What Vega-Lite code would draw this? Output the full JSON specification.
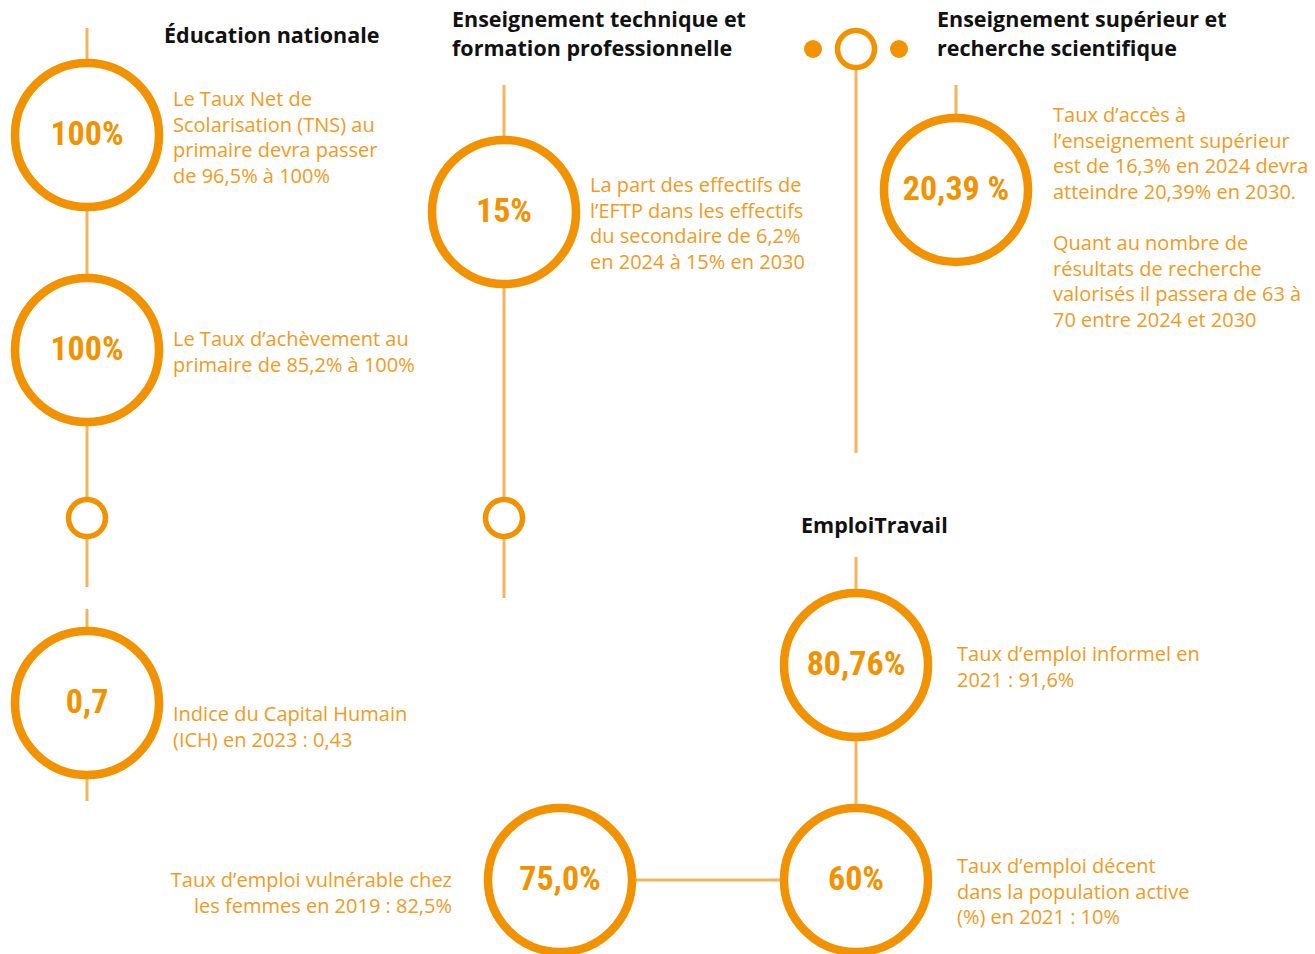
{
  "$schema": "https://vega.github.io/schema/vega-lite/v6.json",
  "width": 1315,
  "height": 954,
  "autosize": {"type": "fit", "contains": "padding"},
  "padding": 0,
  "background": "#ffffff",
  "config": {"view": {"stroke": null}},
  "datasets": {
    "links": [
      {"x": 87, "y": 28, "x2": 87, "y2": 587},
      {"x": 87, "y": 609, "x2": 87, "y2": 801},
      {"x": 504, "y": 85, "x2": 504, "y2": 598},
      {"x": 856, "y": 49, "x2": 856, "y2": 453},
      {"x": 956, "y": 85, "x2": 956, "y2": 190},
      {"x": 856, "y": 557, "x2": 856, "y2": 880},
      {"x": 560, "y": 880, "x2": 856, "y2": 880}
    ],
    "targets": [
      {"x": 87, "y": 135, "value": "100%"},
      {"x": 87, "y": 350, "value": "100%"},
      {"x": 87, "y": 703, "value": "0,7"},
      {"x": 504, "y": 212, "value": "15%"},
      {"x": 956, "y": 190, "value": "20,39 %"},
      {"x": 856, "y": 665, "value": "80,76%"},
      {"x": 856, "y": 880, "value": "60%"},
      {"x": 560, "y": 880, "value": "75,0%"}
    ],
    "rings": [
      {"x": 87, "y": 518},
      {"x": 504, "y": 518},
      {"x": 856, "y": 49}
    ],
    "dots": [
      {"x": 813, "y": 49},
      {"x": 899, "y": 49}
    ],
    "titles": [
      {"x": 164, "y": 43, "text": "Éducation nationale"},
      {"x": 452, "y": 27, "text": "Enseignement technique et\nformation professionnelle"},
      {"x": 937, "y": 27, "text": "Enseignement supérieur et\nrecherche scientifique"},
      {"x": 801, "y": 533, "text": "EmploiTravail"}
    ],
    "notes": [
      {"x": 173, "y": 106, "text": "Le Taux Net de\nScolarisation (TNS) au\nprimaire devra passer\nde 96,5% à 100%"},
      {"x": 173, "y": 346, "text": "Le Taux d’achèvement au\nprimaire de 85,2% à 100%"},
      {"x": 173, "y": 721, "text": "Indice du Capital Humain\n(ICH) en 2023 : 0,43"},
      {"x": 590, "y": 192, "text": "La part des effectifs de\nl’EFTP dans les effectifs\ndu secondaire de 6,2%\nen 2024 à 15% en 2030"},
      {"x": 1053, "y": 122, "text": "Taux d’accès à\nl’enseignement supérieur\nest de 16,3% en 2024 devra\natteindre 20,39% en 2030."},
      {"x": 1053, "y": 250, "text": "Quant au nombre de\nrésultats de recherche\nvalorisés il passera de 63 à\n70 entre 2024 et 2030"},
      {"x": 957, "y": 661, "text": "Taux d’emploi informel en\n2021 : 91,6%"},
      {"x": 957, "y": 873, "text": "Taux d’emploi décent\ndans la population active\n(%) en 2021 : 10%"}
    ],
    "notesRight": [
      {"x": 452, "y": 887, "text": "Taux d’emploi vulnérable chez\nles femmes en 2019 : 82,5%"}
    ]
  },
  "encoding": {
    "x": {"field": "x", "type": "quantitative", "scale": {"domain": [0, 1315], "nice": false, "zero": false}, "axis": null},
    "y": {"field": "y", "type": "quantitative", "scale": {"domain": [0, 954], "nice": false, "zero": false, "reverse": true}, "axis": null}
  },
  "layer": [
    {
      "data": {"name": "links"},
      "mark": {"type": "rule", "color": "#F6B35E", "strokeWidth": 3},
      "encoding": {
        "x2": {"field": "x2"},
        "y2": {"field": "y2"}
      }
    },
    {
      "data": {"name": "targets"},
      "mark": {"type": "point", "shape": "circle", "filled": false, "fill": "#ffffff", "fillOpacity": 1, "stroke": "#F39200", "strokeWidth": 8.5, "opacity": 1, "size": 20736, "clip": true},
      "encoding": {}
    },
    {
      "data": {"name": "rings"},
      "mark": {"type": "point", "shape": "circle", "filled": false, "fill": "#ffffff", "fillOpacity": 1, "stroke": "#F39200", "strokeWidth": 5.5, "opacity": 1, "size": 1369},
      "encoding": {}
    },
    {
      "data": {"name": "dots"},
      "mark": {"type": "point", "shape": "circle", "filled": true, "color": "#F39200", "opacity": 1, "size": 324},
      "encoding": {}
    },
    {
      "data": {"name": "targets"},
      "mark": {"type": "text", "font": "Liberation Sans Narrow, Roboto Condensed, Roboto", "fontWeight": "bold", "fontSize": 34, "color": "#F39200", "align": "center", "baseline": "middle", "clip": true},
      "encoding": {"text": {"field": "value", "type": "nominal"}}
    },
    {
      "data": {"name": "titles"},
      "mark": {"type": "text", "font": "Open Sans", "fontWeight": "bold", "fontSize": 21.5, "color": "#111111", "align": "left", "baseline": "alphabetic", "lineBreak": "\n", "lineHeight": 29},
      "encoding": {"text": {"field": "text", "type": "nominal"}}
    },
    {
      "data": {"name": "notes"},
      "mark": {"type": "text", "font": "Open Sans", "fontWeight": "normal", "fontSize": 20, "color": "#F39A1E", "align": "left", "baseline": "alphabetic", "lineBreak": "\n", "lineHeight": 25.7},
      "encoding": {"text": {"field": "text", "type": "nominal"}}
    },
    {
      "data": {"name": "notesRight"},
      "mark": {"type": "text", "font": "Open Sans", "fontWeight": "normal", "fontSize": 20, "color": "#F39A1E", "align": "right", "baseline": "alphabetic", "lineBreak": "\n", "lineHeight": 25.7},
      "encoding": {"text": {"field": "text", "type": "nominal"}}
    }
  ]
}
